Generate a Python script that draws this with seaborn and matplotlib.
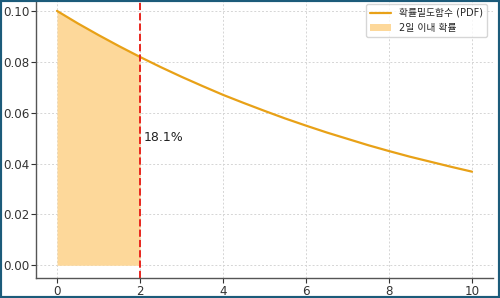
import matplotlib
matplotlib.use("Agg")
import matplotlib.pyplot as plt
import seaborn as sns
import pandas as pd
from matplotlib.patches import Rectangle

# Data
days = [0, 0.5, 1, 1.5, 2, 2.5, 3, 3.5, 4, 4.5, 5, 5.5, 6, 6.5, 7, 7.5, 8, 8.5, 9, 9.5, 10]
pdf_vals = [0.1000, 0.0951, 0.0905, 0.0861, 0.0819, 0.0779, 0.0741, 0.0705, 0.0670, 0.0638,
            0.0607, 0.0577, 0.0549, 0.0522, 0.0497, 0.0472, 0.0449, 0.0427, 0.0407, 0.0387, 0.0368]
cutoff = 2
prob_label = "18.1%"
line_label = "확률밀도함수 (PDF)"
fill_label = "2일 이내 확률"
x_ticks = [0, 2, 4, 6, 8, 10]
y_ticks = [0.00, 0.02, 0.04, 0.06, 0.08, 0.10]

sns.set_style("ticks")
plt.rcParams['font.family'] = ['DejaVu Sans', 'Noto Sans CJK KR']

df = pd.DataFrame({"x": days, "pdf": pdf_vals})
sub = df[df["x"] <= cutoff]

fig = plt.figure(figsize=(5.0, 2.98), dpi=100)
ax = fig.add_axes([0.0725, 0.0671, 0.913, 0.939])

ax.fill_between(sub["x"], sub["pdf"], color="#FDD89A", alpha=1.0, label=fill_label, linewidth=0)
sns.lineplot(data=df, x="x", y="pdf", ax=ax, color="#E8A117", linewidth=1.6, label=line_label)
ax.axvline(cutoff, color="#E8261E", linestyle="--", linewidth=1.4)
ax.text(cutoff + 0.1, 0.0504, prob_label, fontsize=9, va="center", ha="left", color="#222222")

ax.set_xlim(-0.5, 10.5)
ax.set_ylim(-0.005, 0.105)
ax.set_xticks(x_ticks)
ax.set_yticks(y_ticks)
ax.set_yticklabels([f"{v:.2f}" for v in y_ticks])
ax.set_xlabel("")
ax.set_ylabel("확률밀도", family=['Noto Sans CJK KR'], fontsize=8, color="#999999", labelpad=2)
ax.grid(True, linestyle=(0, (2, 2)), color="#D5D5D5", linewidth=0.7)
for s in ["top", "right"]:
    ax.spines[s].set_visible(False)
for s in ["left", "bottom"]:
    ax.spines[s].set_color("#555555")
    ax.spines[s].set_linewidth(1.0)
ax.tick_params(axis="both", labelsize=8.6, colors="#333333", length=3.5, width=0.8,
               direction="out", pad=1.5)

handles, labels = ax.get_legend_handles_labels()
order = [labels.index(line_label), labels.index(fill_label)]
leg = ax.legend([handles[i] for i in order], [labels[i] for i in order],
                loc="upper right", frameon=True, fancybox=True,
                prop={'family': ['DejaVu Sans', 'Noto Sans CJK KR'], 'size': 7},
                borderaxespad=0.6, handlelength=2.2)
leg.get_frame().set_edgecolor("#CCCCCC")

fig.patches.append(Rectangle((0, 0), 1, 1, transform=fig.transFigure, fill=False,
                             edgecolor="#1C5B7A", linewidth=3, zorder=10))

fig.savefig("out.png", dpi=100)
